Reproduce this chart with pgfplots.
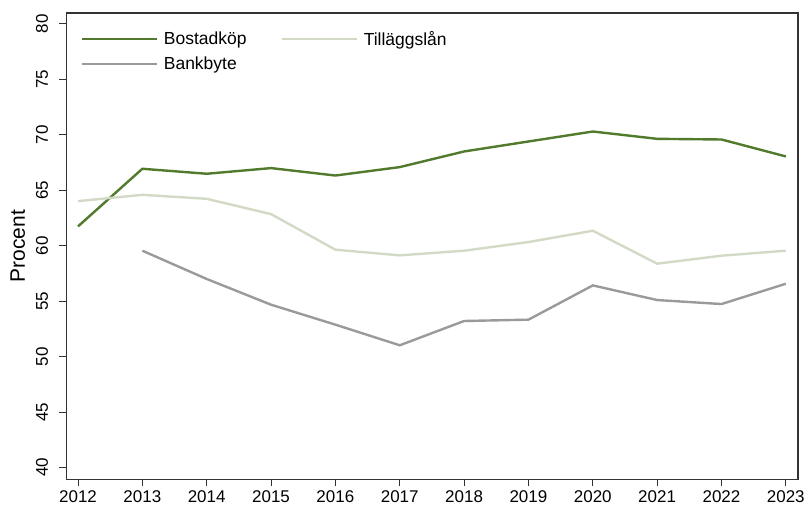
\documentclass[border=0pt]{standalone}
\usepackage{pgfplots}
\pgfplotsset{compat=1.18}
\usepackage{fontspec}
\setmainfont{Liberation Sans}
\definecolor{cgreen}{HTML}{527A2C}
\definecolor{clight}{HTML}{D2DAC6}
\definecolor{cgray}{HTML}{9A9A9A}
\definecolor{caxis}{HTML}{333333}
\begin{document}
\begin{tikzpicture}
\begin{axis}[
  scale only axis,
  width=732.5pt, height=467pt,
  xmin=2011.82, xmax=2023.19,
  ymin=38.92, ymax=80.99,
  xtick={2012,...,2023},
  ytick={40,45,...,80},
  xticklabel style={/pgf/number format/1000 sep={}},
  /pgf/number format/assume math mode=true,
  tick label style={font=\fontsize{17}{20}\selectfont, text=black},
  yticklabel style={rotate=90, anchor=south, yshift=8pt},
  xticklabel style={yshift=-1pt},
  tick align=outside,
  major tick length=7pt,
  xtick pos=bottom, ytick pos=left,
  axis line style={caxis, line width=1.3pt},
  every tick/.style={caxis, line width=1pt},
  ylabel={Procent},
  ylabel style={font=\fontsize{21}{24}\selectfont, yshift=4pt},
  legend columns=2,
  legend cell align=left,
  legend style={draw=none, fill=none, at={(0.015,0.97)}, anchor=north west,
    font=\fontsize{17.5}{20}\selectfont, row sep=6pt,
    /tikz/every even column/.append style={column sep=28pt},
    nodes={inner xsep=6pt}},
  legend image code/.code={\draw[#1] (0pt,0pt) -- (70pt,0pt); \path (0pt,0pt) -- (75pt,0pt);},
  every axis plot/.append style={line width=2.4pt},
]
\addplot[cgreen] coordinates {(2012,61.74) (2013,66.94) (2014,66.49) (2015,67.0) (2016,66.33) (2017,67.09) (2018,68.5) (2019,69.4) (2020,70.3) (2021,69.64) (2022,69.58) (2023,68.05)};
\addlegendentry{Bostadköp}
\addplot[clight] coordinates {(2012,64.02) (2013,64.59) (2014,64.23) (2015,62.85) (2016,59.64) (2017,59.13) (2018,59.55) (2019,60.33) (2020,61.35) (2021,58.38) (2022,59.1) (2023,59.55)};
\addlegendentry{Tilläggslån}
\addplot[cgray] coordinates {(2013,59.55) (2014,57.0) (2015,54.68) (2016,52.88) (2017,51.02) (2018,53.21) (2019,53.33) (2020,56.42) (2021,55.1) (2022,54.74) (2023,56.57)};
\addlegendentry{Bankbyte}
\end{axis}
\path (current axis.south west) ++(-66.5pt,-30pt) coordinate (bl);
\path (current axis.north east) ++(9pt,13pt) coordinate (tr);
\path (bl) rectangle (tr);
\end{tikzpicture}
\end{document}
